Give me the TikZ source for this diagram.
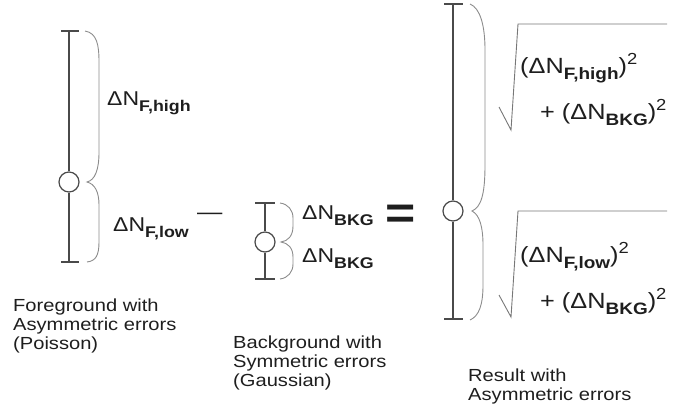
\documentclass[tikz,border=0pt]{standalone}
\usepackage{fontspec}
\setmainfont{Liberation Sans}[FakeStretch=1.15]
\definecolor{barcol}{HTML}{4A4A4A}
\definecolor{bracecol}{HTML}{8C8C8C}
\definecolor{sqrtcol}{HTML}{777777}
\definecolor{txtcol}{HTML}{1E1E1E}
\newcommand\Dsub[2][15.5]{\raisebox{-6pt}{\fontsize{#1}{#1}\selectfont\bfseries #2}}
\newcommand\Dsup{\raisebox{9pt}{\fontsize{16}{16}\selectfont 2}}
\tikzset{
  bar/.style={draw=barcol, line width=1.4pt},
  brace/.style={draw=bracecol, line width=0.9pt},
  rootsign/.style={draw=sqrtcol, line width=0.9pt, line join=miter},
  dot/.style={circle, draw=barcol, line width=1.2pt, fill=white, minimum size=20pt, inner sep=0pt},
  math/.style={anchor=base west, inner sep=0pt, text=txtcol, font=\fontsize{20}{20}\selectfont},
  bigmath/.style={anchor=base west, inner sep=0pt, text=txtcol, font=\fontsize{22}{22}\selectfont},
  caption/.style={anchor=base west, inner sep=0pt, text=txtcol, align=left, font=\fontsize{17.5}{19}\selectfont}
}
\begin{document}
\begin{tikzpicture}[x=1pt,y=-1pt]
\useasboundingbox (0,0) rectangle (688,415);
% ---------- left error bar (foreground)
\coordinate (Ltop) at (69,31);
\coordinate (Lbot) at (69,262);
\node[dot] (Lc) at (69,182) {};
\draw[bar] (Ltop) -- (Lc.north) (Lc.south) -- (Lbot);
\draw[bar] (61,31) -- (79,31) (61,262) -- (79,262);
\draw[brace] (85,31) .. controls (97,33) and (99,45) .. (99,62) -- (99,152)
   .. controls (99,170) and (95,180) .. (87,182)
   .. controls (95,184) and (99,192) .. (99,205) -- (99,242)
   .. controls (99,255) and (96,261) .. (87,262);
\node[math] (Lhigh) at (107,105) {ΔN\Dsub{F,high}};
\node[math] (Llow) at (113,231) {ΔN\Dsub{F,low}};
\node[anchor=base west, inner sep=0pt, text=txtcol, font=\fontsize{22}{22}\selectfont] (minus) at (197,219) {—};
% ---------- middle error bar (background)
\coordinate (Mtop) at (265,203);
\coordinate (Mbot) at (265,279);
\node[dot] (Mc) at (265,242) {};
\draw[bar] (Mtop) -- (Mc.north) (Mc.south) -- (Mbot);
\draw[bar] (255,203) -- (275,203) (255,279) -- (275,279);
\draw[brace] (280,203) .. controls (288,204) and (293,210) .. (293,218) -- (293,226)
   .. controls (293,236) and (288,241) .. (281,242)
   .. controls (288,243) and (293,248) .. (293,257) -- (293,264)
   .. controls (293,272) and (288,278) .. (280,279);
\node[math] (Bhigh) at (302,219) {ΔN\Dsub{BKG}};
\node[math] (Blow) at (302,262) {ΔN\Dsub{BKG}};
\node[anchor=base west, inner sep=0pt, text=txtcol, font=\fontsize{45}{45}\selectfont\bfseries] (equals) at (385,228) {=};
% ---------- right error bar (result)
\coordinate (Rtop) at (453,4);
\coordinate (Rbot) at (453,319);
\node[dot] (Rc) at (453,211) {};
\draw[bar] (Rtop) -- (Rc.north) (Rc.south) -- (Rbot);
\draw[bar] (444,4) -- (463,4) (444,319) -- (463,319);
\draw[brace] (470,4) .. controls (480,8) and (485,25) .. (485,50) -- (485,165)
   .. controls (485,195) and (481,207) .. (472,211)
   .. controls (480,215) and (483,228) .. (483,245) -- (483,285)
   .. controls (483,305) and (479,316) .. (470,320);
% upper root
\coordinate (ru1) at (499,107);
\coordinate (ru2) at (511,130);
\coordinate (ru3) at (518,24);
\coordinate (ru4) at (667,24);
\draw[rootsign] (ru1) -- (ru2) -- (ru3) -- (ru4);
\node[bigmath] (Rh1) at (520,73) {(ΔN\Dsub[16.5]{F,high})\Dsup};
\node[bigmath] (Rh2) at (540,119) {+ (ΔN\Dsub[16.5]{BKG})\Dsup};
% lower root
\coordinate (rl1) at (499,295);
\coordinate (rl2) at (511,317);
\coordinate (rl3) at (518,211);
\coordinate (rl4) at (667,211);
\draw[rootsign] (rl1) -- (rl2) -- (rl3) -- (rl4);
\node[bigmath] (Rl1) at (520,262) {(ΔN\Dsub[16.5]{F,low})\Dsup};
\node[bigmath] (Rl2) at (540,308) {+ (ΔN\Dsub[16.5]{BKG})\Dsup};
% ---------- captions (anchored at the baseline of their last line)
\node[caption] (capF) at (13,349) {Foreground with\\Asymmetric errors\\(Poisson)};
\node[caption] (capB) at (233,386) {Background with\\Symmetric errors\\(Gaussian)};
\node[caption] (capR) at (468,400) {Result with\\Asymmetric errors};
\end{tikzpicture}
\end{document}
